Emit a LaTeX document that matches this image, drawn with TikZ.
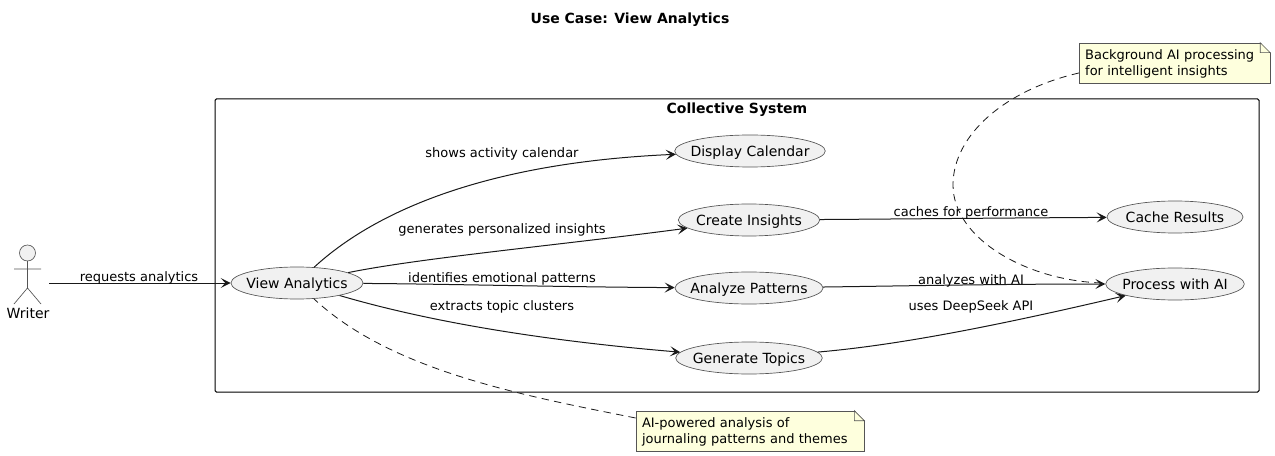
\documentclass[tikz,border=0pt]{standalone}
\usepackage{fontspec}
\setmainfont{DejaVu Sans}
\usetikzlibrary{shapes.geometric,arrows.meta}
\definecolor{usefill}{HTML}{F1F1F1}
\definecolor{noteyellow}{HTML}{FEFFDD}
\definecolor{thinline}{HTML}{555555}
\def\usecases{{(297,283)/view/99pt/View Analytics}, {(750,151)/calendar/113pt/Display Calendar}, {(749,220)/insights/106pt/Create Insights}, {(749,288)/patterns/111pt/Analyze Patterns}, {(749,358)/topics/110pt/Generate Topics}, {(1175,217)/cache/102pt/Cache Results}, {(1175,284)/process/104pt/Process with AI}}
\def\flowLabels{{(139,277.5)/requests analytics}, {(502,153.5)/shows activity calendar}, {(502,229.5)/generates personalized insights}, {(502,278.5)/identifies emotional patterns}, {(502,306.5)/extracts topic clusters}, {(971,212.5)/caches for performance}, {(971,280.5)/analyzes with AI}, {(971,306.5)/uses DeepSeek API}}
\def\flowConnect{view/372/214/480/163/calendar, view/420/258/560/245/insights, view/450/284/560/287/patterns, view/440/325/560/342/topics, insights/900/219/1000/218/cache, patterns/900/286/1000/284/process, topics/900/345/1000/325/process}
\tikzstyle{usecase}=[ellipse,draw=thinline,fill=usefill,line width=0.5pt,inner xsep=-20pt,inner ysep=-3pt,minimum height=24pt,text height=10pt,text depth=2pt,font=\fontsize{10.5}{12}\selectfont]
\tikzstyle{notebox}=[rectangle,draw=thinline,fill=noteyellow,line width=0.5pt,inner sep=4.5pt,align=left,minimum height=30pt,text depth=12pt,font=\fontsize{9.75}{12}\selectfont]
\tikzstyle{flow}=[draw,line width=0.75pt,black!90,-{Stealth[length=7.5pt,width=7.5pt,inset=3.5pt]}]
\tikzstyle{noteline}=[draw,line width=0.6pt,black!90,dashed,dash pattern=on 5.5pt off 4pt]
\tikzstyle{weight}=[font=\fontsize{9.75}{12}\selectfont]
\tikzstyle{actorline}=[draw=thinline,line width=0.5pt]
\begin{document}
\begin{tikzpicture}[x=0.75pt,y=-0.75pt]
  \useasboundingbox (0,0) rectangle (1275,456);
  \node[font=\fontsize{10.5}{12}\selectfont\bfseries] (title) at (630,20) {Use Case: View Analytics};

  % The system boundary
  \draw[line width=0.75pt,rounded corners=1pt] (215,99) rectangle (1259,392);
  \node[font=\fontsize{10.5}{12}\selectfont\bfseries] (system) at (737,110) {Collective System};

  % The actor
  \draw[actorline,fill=usefill] (27.5,253) circle (8);
  \draw[actorline] (27.5,261) -- (27.5,288) (14,269) -- (41,269) (14,304) -- (27.5,288) -- (41,304);
  \node[font=\fontsize{10.5}{12}\selectfont] (writer) at (28,313) {Writer};
  \coordinate (writerout) at (49,283);

  % First we draw the use cases
  \foreach \pos/\name/\wid/\txt in \usecases {
    \node[usecase,minimum width=\wid] (\name) at \pos {\txt};
  }

  % The notes, with a folded corner
  \foreach \pos/\name/\wid/\txt in {{(1174.5,63)/bgnote/134pt/Background AI processing\\for intelligent insights}, {(750,431)/ainote/162pt/AI-powered analysis of\\journaling patterns and themes}} {
    \node[notebox,text width=\wid] (\name) at \pos {\txt};
    \fill[white] ([xshift=-7.5pt,yshift=0.5pt]\name.north east) -- ([xshift=0.5pt,yshift=0.5pt]\name.north east) -- ([xshift=0.5pt,yshift=-7.5pt]\name.north east) -- cycle;
    \draw[thinline,line width=0.5pt,fill=noteyellow] ([xshift=-7.5pt]\name.north east) -- ([yshift=-7.5pt]\name.north east) -- ([xshift=-7.5pt,yshift=-7.5pt]\name.north east) -- cycle;
  }

  % Connect the use cases and draw the labels
  \path[flow] (writerout) -- (view);
  \foreach \source/\ax/\ay/\bx/\by/\dest in \flowConnect
    \path[flow] (\source) .. controls (\ax,\ay) and (\bx,\by) .. (\dest);
  \foreach \pos/\txt [count=\i] in \flowLabels
    \node[weight] (flowlabel\i) at \pos {\txt};

  % The dashed lines of the notes
  \coordinate (bend) at (953,185);
  \path[noteline] ([yshift=-7.5pt]bgnote.west) .. controls (1005,90) and (953,135) .. (bend) .. controls (953,240) and (1030,282) .. (process);
  \path[noteline] ([yshift=9.75pt]ainote.west) .. controls (520,395) and (390,370) .. (view);
\end{tikzpicture}
\end{document}
